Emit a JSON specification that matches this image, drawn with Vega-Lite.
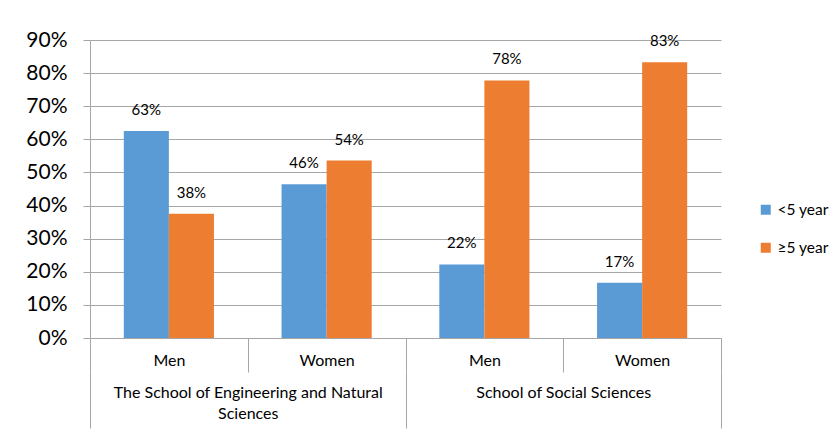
{
  "$schema": "https://vega.github.io/schema/vega-lite/v6.json",
  "width": 631,
  "height": 298,
  "autosize": {"type": "none"},
  "padding": {"left": 90, "top": 40, "right": 118, "bottom": 96},
  "background": "white",
  "config": {"font": "Lato", "view": {"stroke": null}},
  "data": {
    "values": [
      {"school": "The School of Engineering and Natural Sciences", "gender": "Men", "cat": "Eng / Men", "period": "<5 year", "value": 0.625},
      {"school": "The School of Engineering and Natural Sciences", "gender": "Men", "cat": "Eng / Men", "period": "≥5 year", "value": 0.375},
      {"school": "The School of Engineering and Natural Sciences", "gender": "Women", "cat": "Eng / Women", "period": "<5 year", "value": 0.464},
      {"school": "The School of Engineering and Natural Sciences", "gender": "Women", "cat": "Eng / Women", "period": "≥5 year", "value": 0.536},
      {"school": "School of Social Sciences", "gender": "Men", "cat": "Soc / Men", "period": "<5 year", "value": 0.222},
      {"school": "School of Social Sciences", "gender": "Men", "cat": "Soc / Men", "period": "≥5 year", "value": 0.778},
      {"school": "School of Social Sciences", "gender": "Women", "cat": "Soc / Women", "period": "<5 year", "value": 0.167},
      {"school": "School of Social Sciences", "gender": "Women", "cat": "Soc / Women", "period": "≥5 year", "value": 0.833}
    ]
  },
  "layer": [
    {
      "encoding": {
        "x": {
          "field": "cat", "type": "nominal", "sort": null,
          "scale": {"paddingInner": 0, "paddingOuter": 0},
          "axis": {
            "title": null, "orient": "bottom",
            "labelExpr": "split(datum.label, ' / ')[1]",
            "labelAngle": 0, "labelFontSize": 16, "labelColor": "#000000",
            "labelBaseline": "middle", "labelPadding": -11.5,
            "domainColor": "#A6A6A6", "tickColor": "#A6A6A6",
            "tickBand": "extent", "tickSize": 34, "grid": false
          }
        },
        "xOffset": {
          "field": "period", "type": "nominal",
          "scale": {"paddingInner": 0, "paddingOuter": 0.75}
        },
        "y": {
          "field": "value", "type": "quantitative",
          "scale": {"domain": [0, 0.9], "nice": false},
          "axis": {
            "title": null, "format": ".0%", "values": [0, 0.1, 0.2, 0.3, 0.4, 0.5, 0.6, 0.7, 0.8, 0.9],
            "labelFontSize": 21, "labelColor": "#000000", "labelPadding": 16,
            "tickSize": 7, "tickColor": "#A6A6A6", "domainColor": "#A6A6A6",
            "gridColor": "#A6A6A6", "gridOpacity": 1
          }
        }
      },
      "layer": [
        {
          "mark": {"type": "bar"},
          "encoding": {
            "color": {
              "field": "period", "type": "nominal",
              "scale": {"domain": ["<5 year", "≥5 year"], "range": ["#5B9BD5", "#ED7D31"]},
              "legend": {
                "title": null, "orient": "none", "legendX": 668, "legendY": 162,
                "symbolType": "square", "symbolSize": 100, "symbolStrokeWidth": 0,
                "labelFontSize": 15.5, "labelColor": "#000000", "labelOffset": 4,
                "rowPadding": 21
              }
            }
          }
        },
        {
          "mark": {"type": "text", "baseline": "middle", "dy": -21, "fontSize": 15, "color": "#000000"},
          "encoding": {
            "text": {"field": "value", "type": "quantitative", "format": ".0%"}
          }
        }
      ]
    },
    {
      "mark": {"type": "text", "opacity": 0},
      "encoding": {
        "x": {
          "field": "school", "type": "nominal", "sort": null,
          "scale": {"paddingInner": 0, "paddingOuter": 0},
          "axis": {
            "title": null, "orient": "bottom", "offset": 34,
            "domain": false, "grid": false,
            "labelExpr": "datum.value == 'The School of Engineering and Natural Sciences' ? ['The School of Engineering and Natural', 'Sciences'] : datum.label",
            "labelAngle": 0, "labelFontSize": 16, "labelColor": "#000000",
            "labelBaseline": "top", "labelPadding": -44, "labelLineHeight": 21, "labelLimit": 0,
            "tickColor": "#A6A6A6", "tickBand": "extent", "tickSize": 56
          }
        },
        "text": {"value": ""}
      }
    }
  ],
  "resolve": {"scale": {"x": "independent"}}
}
